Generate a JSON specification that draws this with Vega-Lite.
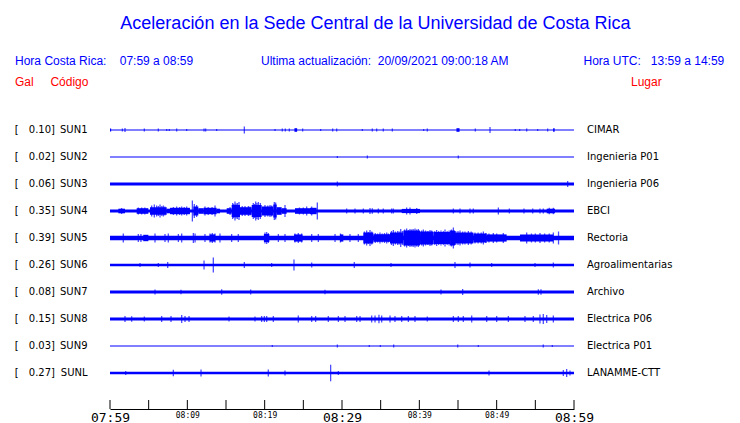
{
"$schema": "https://vega.github.io/schema/vega-lite/v6.json",
"width": 464, "height": 292.5,
"autosize": {"type": "none"},
"padding": {"left": 110, "top": 116.5, "right": 166, "bottom": 14},
"background": "#ffffff",
"config": {"view": {"stroke": null}, "axis": {"grid": false}},
"datasets": {
"one": [{}],
"st": [
{"s":"SUN1","g":"0.10","lugar":"CIMAR"},
{"s":"SUN2","g":"0.02","lugar":"Ingenieria P01"},
{"s":"SUN3","g":"0.06","lugar":"Ingenieria P06"},
{"s":"SUN4","g":"0.35","lugar":"EBCI"},
{"s":"SUN5","g":"0.39","lugar":"Rectoria"},
{"s":"SUN6","g":"0.26","lugar":"Agroalimentarias"},
{"s":"SUN7","g":"0.08","lugar":"Archivo"},
{"s":"SUN8","g":"0.15","lugar":"Electrica P06"},
{"s":"SUN9","g":"0.03","lugar":"Electrica P01"},
{"s":"SUNL","g":"0.27","lugar":"LANAMME-CTT"}
],
"ticks": [{"t":0},{"t":5},{"t":10},{"t":15},{"t":20},{"t":25},{"t":30},{"t":35},{"t":40},{"t":45},{"t":50},{"t":55},{"t":60}],
"seg": [
{"s":"SUN1","t0":0,"t1":60,"a":0.5},
{"s":"SUN2","t0":0,"t1":60,"a":0.5},
{"s":"SUN3","t0":0,"t1":60,"a":1.6},
{"s":"SUN4","t0":0,"t1":60,"a":1.4},
{"s":"SUN5","t0":0,"t1":60,"a":2.3},
{"s":"SUN6","t0":0,"t1":60,"a":1.2},
{"s":"SUN7","t0":0,"t1":60,"a":1.5},
{"s":"SUN8","t0":0,"t1":60,"a":1.6},
{"s":"SUN9","t0":0,"t1":60,"a":0.5},
{"s":"SUNL","t0":0,"t1":60,"a":1.2},
{"s":"SUN1","t0":0,"t1":0.15,"a":1.5},
{"s":"SUN1","t0":23.85,"t1":24.2,"a":1.8},
{"s":"SUN1","t0":44.8,"t1":45.2,"a":1.8},
{"s":"SUN1","t0":57.3,"t1":57.5,"a":1.8},
{"s":"SUN4","t0":1.08,"t1":1.94,"a":2.3},
{"s":"SUN4","t0":3.45,"t1":4.96,"a":2.8},
{"s":"SUN4","t0":5.17,"t1":7.33,"a":3.8},
{"s":"SUN4","t0":7.33,"t1":7.76,"a":2.3},
{"s":"SUN4","t0":7.76,"t1":10.34,"a":3.2},
{"s":"SUN4","t0":10.78,"t1":11.42,"a":4.5},
{"s":"SUN4","t0":11.42,"t1":12.07,"a":2.8},
{"s":"SUN4","t0":12.07,"t1":13.79,"a":3.2},
{"s":"SUN4","t0":13.79,"t1":14.22,"a":2.3},
{"s":"SUN4","t0":15.09,"t1":15.73,"a":2.8},
{"s":"SUN4","t0":15.73,"t1":16.81,"a":6},
{"s":"SUN4","t0":16.81,"t1":18.32,"a":3.8},
{"s":"SUN4","t0":18.32,"t1":19.61,"a":6},
{"s":"SUN4","t0":19.61,"t1":21.12,"a":4.5},
{"s":"SUN4","t0":21.12,"t1":21.55,"a":6.5},
{"s":"SUN4","t0":21.55,"t1":22.2,"a":3.8},
{"s":"SUN4","t0":22.2,"t1":22.84,"a":2.8},
{"s":"SUN4","t0":23.92,"t1":25.86,"a":2.8},
{"s":"SUN4","t0":25.86,"t1":26.72,"a":3.2},
{"s":"SUN4","t0":37.72,"t1":40.09,"a":2.1},
{"s":"SUN4","t0":56.47,"t1":57.54,"a":2.3},
{"s":"SUN5","t0":4.3,"t1":4.96,"a":3.2},
{"s":"SUN5","t0":12.9,"t1":13.6,"a":3.6},
{"s":"SUN5","t0":19.9,"t1":20.6,"a":4},
{"s":"SUN5","t0":23.8,"t1":24.9,"a":3.6},
{"s":"SUN5","t0":29.74,"t1":30.17,"a":3.6},
{"s":"SUN5","t0":32.76,"t1":34.05,"a":5.5},
{"s":"SUN5","t0":34.05,"t1":36.21,"a":3.8},
{"s":"SUN5","t0":36.21,"t1":37.93,"a":5.5},
{"s":"SUN5","t0":37.93,"t1":40.09,"a":7.5},
{"s":"SUN5","t0":40.09,"t1":41.81,"a":6.5},
{"s":"SUN5","t0":41.81,"t1":43.97,"a":6},
{"s":"SUN5","t0":43.97,"t1":44.61,"a":7.5},
{"s":"SUN5","t0":44.61,"t1":46.98,"a":5.5},
{"s":"SUN5","t0":46.98,"t1":48.71,"a":4.5},
{"s":"SUN5","t0":48.71,"t1":51.29,"a":3.6},
{"s":"SUN5","t0":53.02,"t1":57.33,"a":3.6}
],
"pk": [
{"s":"SUN1","t":1.6,"a":1.5},{"s":"SUN1","t":1.94,"a":2},{"s":"SUN1","t":4.44,"a":1.5},{"s":"SUN1","t":6.25,"a":1.5},{"s":"SUN1","t":7.33,"a":1},{"s":"SUN1","t":7.67,"a":1},{"s":"SUN1","t":8.62,"a":1.5},{"s":"SUN1","t":9.91,"a":1},{"s":"SUN1","t":12.16,"a":1.5},{"s":"SUN1","t":12.37,"a":1.5},{"s":"SUN1","t":13.79,"a":1},{"s":"SUN1","t":17.37,"a":3.5},{"s":"SUN1","t":21.34,"a":1},{"s":"SUN1","t":22.28,"a":1.5},{"s":"SUN1","t":22.67,"a":1.5},{"s":"SUN1","t":23.19,"a":1.5},{"s":"SUN1","t":24.91,"a":1.5},{"s":"SUN1","t":27.24,"a":1},{"s":"SUN1","t":28.79,"a":1.5},{"s":"SUN1","t":29.31,"a":1.5},{"s":"SUN1","t":32.63,"a":1},{"s":"SUN1","t":33.92,"a":1.5},{"s":"SUN1","t":34.48,"a":1.5},{"s":"SUN1","t":35.34,"a":1.5},{"s":"SUN1","t":36.51,"a":1.5},{"s":"SUN1","t":40.56,"a":1},{"s":"SUN1","t":41.03,"a":1.5},{"s":"SUN1","t":47.24,"a":1.5},{"s":"SUN1","t":49.14,"a":3},{"s":"SUN1","t":52.41,"a":1},{"s":"SUN1","t":52.97,"a":1},{"s":"SUN1","t":53.88,"a":1.5},{"s":"SUN1","t":55.3,"a":1},{"s":"SUN1","t":56.59,"a":1.5},
{"s":"SUN2","t":29.4,"a":1},{"s":"SUN2","t":33.28,"a":1.5},{"s":"SUN2","t":45.04,"a":1.5},
{"s":"SUN3","t":29.4,"a":2.5},{"s":"SUN3","t":59.18,"a":3},
{"s":"SUN4","t":1.5,"a":3},{"s":"SUN4","t":3.66,"a":3.5},{"s":"SUN4","t":4.1,"a":3.5},{"s":"SUN4","t":4.5,"a":3.5},{"s":"SUN4","t":5.39,"a":5.5},{"s":"SUN4","t":5.73,"a":6.5},{"s":"SUN4","t":6.03,"a":5.5},{"s":"SUN4","t":6.25,"a":5},{"s":"SUN4","t":6.47,"a":6.5},{"s":"SUN4","t":6.7,"a":5},{"s":"SUN4","t":6.9,"a":5.5},{"s":"SUN4","t":7.1,"a":4.5},{"s":"SUN4","t":8.2,"a":4},{"s":"SUN4","t":8.62,"a":4.5},{"s":"SUN4","t":9.0,"a":4},{"s":"SUN4","t":9.27,"a":4.5},{"s":"SUN4","t":9.6,"a":4},{"s":"SUN4","t":9.91,"a":4.5},{"s":"SUN4","t":10.65,"a":10.5},{"s":"SUN4","t":10.9,"a":7},{"s":"SUN4","t":11.2,"a":6},{"s":"SUN4","t":12.28,"a":4.5},{"s":"SUN4","t":12.7,"a":4},{"s":"SUN4","t":13.2,"a":4},{"s":"SUN4","t":13.58,"a":5.5},{"s":"SUN4","t":15.52,"a":4},{"s":"SUN4","t":15.86,"a":8},{"s":"SUN4","t":16.0,"a":7},{"s":"SUN4","t":16.16,"a":9.5},{"s":"SUN4","t":16.3,"a":7.5},{"s":"SUN4","t":16.47,"a":8},{"s":"SUN4","t":16.68,"a":9},{"s":"SUN4","t":17.1,"a":5},{"s":"SUN4","t":17.46,"a":5},{"s":"SUN4","t":17.89,"a":5},{"s":"SUN4","t":18.1,"a":4.5},{"s":"SUN4","t":18.53,"a":8},{"s":"SUN4","t":18.7,"a":7},{"s":"SUN4","t":18.84,"a":9.5},{"s":"SUN4","t":19.0,"a":8},{"s":"SUN4","t":19.18,"a":9},{"s":"SUN4","t":19.44,"a":8},{"s":"SUN4","t":20.04,"a":6},{"s":"SUN4","t":20.4,"a":5.5},{"s":"SUN4","t":20.69,"a":6},{"s":"SUN4","t":20.9,"a":5.5},{"s":"SUN4","t":21.25,"a":9},{"s":"SUN4","t":21.42,"a":8.5},{"s":"SUN4","t":22.63,"a":6},{"s":"SUN4","t":24.5,"a":3.5},{"s":"SUN4","t":25.0,"a":3.5},{"s":"SUN4","t":25.43,"a":4.5},{"s":"SUN4","t":26.08,"a":4.5},{"s":"SUN4","t":26.81,"a":8.5},
{"s":"SUN4","t":30.6,"a":2.5},{"s":"SUN4","t":31.68,"a":2.5},{"s":"SUN4","t":32.76,"a":2.5},{"s":"SUN4","t":33.62,"a":3},{"s":"SUN4","t":33.92,"a":2.8},{"s":"SUN4","t":34.7,"a":2.5},{"s":"SUN4","t":35.34,"a":2.5},{"s":"SUN4","t":36.42,"a":2.5},{"s":"SUN4","t":36.64,"a":2.5},{"s":"SUN4","t":38.36,"a":3.5},{"s":"SUN4","t":38.79,"a":3.5},{"s":"SUN4","t":39.66,"a":3},{"s":"SUN4","t":44.4,"a":2.5},{"s":"SUN4","t":45.26,"a":2.5},{"s":"SUN4","t":46.55,"a":2.5},{"s":"SUN4","t":46.98,"a":2.5},{"s":"SUN4","t":50.22,"a":3.5},{"s":"SUN4","t":51.64,"a":2.5},{"s":"SUN4","t":53.53,"a":2.5},{"s":"SUN4","t":54.66,"a":2.5},{"s":"SUN4","t":55.6,"a":2.5},{"s":"SUN4","t":56.03,"a":2.5},{"s":"SUN4","t":56.8,"a":3.2},{"s":"SUN4","t":57.33,"a":3.2},
{"s":"SUN5","t":1.72,"a":4.5},{"s":"SUN5","t":3.66,"a":4},{"s":"SUN5","t":4.0,"a":4},{"s":"SUN5","t":5.82,"a":4.5},{"s":"SUN5","t":7.11,"a":4},{"s":"SUN5","t":7.54,"a":4.5},{"s":"SUN5","t":8.84,"a":4},{"s":"SUN5","t":9.27,"a":4.5},{"s":"SUN5","t":10.78,"a":5},{"s":"SUN5","t":11.0,"a":4.5},{"s":"SUN5","t":12.28,"a":4},{"s":"SUN5","t":12.93,"a":4.5},{"s":"SUN5","t":13.23,"a":5},{"s":"SUN5","t":13.58,"a":4.5},{"s":"SUN5","t":14.22,"a":4.5},{"s":"SUN5","t":15.73,"a":4},{"s":"SUN5","t":16.59,"a":4},{"s":"SUN5","t":20.04,"a":5.5},{"s":"SUN5","t":20.26,"a":6},{"s":"SUN5","t":20.47,"a":5},{"s":"SUN5","t":21.77,"a":4},{"s":"SUN5","t":22.63,"a":4},{"s":"SUN5","t":23.92,"a":4.5},{"s":"SUN5","t":24.35,"a":5},{"s":"SUN5","t":24.78,"a":4.5},{"s":"SUN5","t":26.08,"a":4},{"s":"SUN5","t":26.94,"a":4},{"s":"SUN5","t":29.1,"a":4},{"s":"SUN5","t":29.8,"a":4.5},{"s":"SUN5","t":31.03,"a":4},{"s":"SUN5","t":32.11,"a":4},
{"s":"SUN5","t":32.9,"a":6.5},{"s":"SUN5","t":33.19,"a":7.5},{"s":"SUN5","t":33.4,"a":6},{"s":"SUN5","t":33.62,"a":8},{"s":"SUN5","t":33.85,"a":6.5},{"s":"SUN5","t":34.3,"a":5},{"s":"SUN5","t":34.6,"a":4.5},{"s":"SUN5","t":34.91,"a":5.5},{"s":"SUN5","t":35.2,"a":4.5},{"s":"SUN5","t":35.5,"a":5},{"s":"SUN5","t":35.78,"a":5.5},{"s":"SUN5","t":36.0,"a":4.5},{"s":"SUN5","t":36.4,"a":7},{"s":"SUN5","t":36.64,"a":8},{"s":"SUN5","t":36.9,"a":6.5},{"s":"SUN5","t":37.2,"a":7},{"s":"SUN5","t":37.4,"a":6.5},{"s":"SUN5","t":37.59,"a":9},{"s":"SUN5","t":37.8,"a":7},{"s":"SUN5","t":38.1,"a":8.5},{"s":"SUN5","t":38.36,"a":9.5},{"s":"SUN5","t":38.6,"a":8},{"s":"SUN5","t":38.79,"a":9},{"s":"SUN5","t":39.0,"a":8.5},{"s":"SUN5","t":39.2,"a":9},{"s":"SUN5","t":39.44,"a":9.5},{"s":"SUN5","t":39.65,"a":8.5},{"s":"SUN5","t":39.87,"a":9},{"s":"SUN5","t":40.3,"a":7.5},{"s":"SUN5","t":40.52,"a":8.5},{"s":"SUN5","t":40.8,"a":7.5},{"s":"SUN5","t":41.1,"a":7},{"s":"SUN5","t":41.38,"a":8},{"s":"SUN5","t":41.6,"a":7.5},{"s":"SUN5","t":42.0,"a":7},{"s":"SUN5","t":42.24,"a":8},{"s":"SUN5","t":42.5,"a":7},{"s":"SUN5","t":42.8,"a":7.5},{"s":"SUN5","t":43.1,"a":7},{"s":"SUN5","t":43.32,"a":8.5},{"s":"SUN5","t":43.6,"a":7},{"s":"SUN5","t":43.85,"a":7.5},{"s":"SUN5","t":44.15,"a":8.5},{"s":"SUN5","t":44.4,"a":10.5},{"s":"SUN5","t":44.7,"a":7},{"s":"SUN5","t":45.0,"a":7},{"s":"SUN5","t":45.26,"a":7.5},{"s":"SUN5","t":45.6,"a":6.5},{"s":"SUN5","t":45.9,"a":6.5},{"s":"SUN5","t":46.34,"a":7},{"s":"SUN5","t":46.7,"a":6.5},{"s":"SUN5","t":47.2,"a":5.5},{"s":"SUN5","t":47.6,"a":5.5},{"s":"SUN5","t":48.0,"a":5.5},{"s":"SUN5","t":48.28,"a":6.5},{"s":"SUN5","t":48.6,"a":5},{"s":"SUN5","t":49.0,"a":4.5},{"s":"SUN5","t":49.57,"a":5},{"s":"SUN5","t":50.0,"a":4.5},{"s":"SUN5","t":50.86,"a":5},{"s":"SUN5","t":53.88,"a":5.5},{"s":"SUN5","t":54.5,"a":4.5},{"s":"SUN5","t":55.0,"a":4.5},{"s":"SUN5","t":55.6,"a":5},{"s":"SUN5","t":56.2,"a":4.5},{"s":"SUN5","t":56.8,"a":4.5},{"s":"SUN5","t":57.33,"a":5.5},{"s":"SUN5","t":58.0,"a":6.5},
{"s":"SUN6","t":3.88,"a":2},{"s":"SUN6","t":6.25,"a":2},{"s":"SUN6","t":7.46,"a":3},{"s":"SUN6","t":12.16,"a":4.5},{"s":"SUN6","t":13.36,"a":7.5},{"s":"SUN6","t":17.37,"a":3},{"s":"SUN6","t":20.9,"a":2},{"s":"SUN6","t":23.79,"a":5.5},{"s":"SUN6","t":26.08,"a":2.5},{"s":"SUN6","t":31.59,"a":3},{"s":"SUN6","t":36.34,"a":2},{"s":"SUN6","t":44.61,"a":3},{"s":"SUN6","t":46.55,"a":2.5},{"s":"SUN6","t":49.35,"a":2},{"s":"SUN6","t":54.96,"a":2},{"s":"SUN6","t":57.33,"a":2.5},
{"s":"SUN7","t":5.82,"a":2.5},{"s":"SUN7","t":9.18,"a":2.3},{"s":"SUN7","t":14.44,"a":2.8},{"s":"SUN7","t":18.19,"a":2.5},{"s":"SUN7","t":27.8,"a":2.3},{"s":"SUN7","t":42.8,"a":2.5},{"s":"SUN7","t":45.6,"a":3},{"s":"SUN7","t":55.39,"a":2.8},{"s":"SUN7","t":55.73,"a":2.8},
{"s":"SUN8","t":1.94,"a":3},{"s":"SUN8","t":2.8,"a":2.7},{"s":"SUN8","t":4.44,"a":2.5},{"s":"SUN8","t":6.68,"a":3},{"s":"SUN8","t":7.89,"a":3},{"s":"SUN8","t":9.27,"a":4},{"s":"SUN8","t":9.7,"a":3},{"s":"SUN8","t":10.22,"a":3},{"s":"SUN8","t":15.39,"a":2.5},{"s":"SUN8","t":18.75,"a":2.5},{"s":"SUN8","t":19.61,"a":3},{"s":"SUN8","t":19.96,"a":3},{"s":"SUN8","t":20.26,"a":3},{"s":"SUN8","t":21.12,"a":3},{"s":"SUN8","t":24.35,"a":3.5},{"s":"SUN8","t":26.08,"a":3},{"s":"SUN8","t":26.59,"a":3},{"s":"SUN8","t":28.23,"a":3},{"s":"SUN8","t":29.53,"a":3},{"s":"SUN8","t":30.39,"a":3},{"s":"SUN8","t":31.9,"a":3},{"s":"SUN8","t":32.33,"a":3},{"s":"SUN8","t":33.84,"a":3.5},{"s":"SUN8","t":34.27,"a":3.5},{"s":"SUN8","t":34.78,"a":4.2},{"s":"SUN8","t":35.13,"a":3.5},{"s":"SUN8","t":36.21,"a":3.5},{"s":"SUN8","t":36.85,"a":3},{"s":"SUN8","t":37.72,"a":3},{"s":"SUN8","t":38.58,"a":3},{"s":"SUN8","t":39.44,"a":3},{"s":"SUN8","t":41.03,"a":2.5},{"s":"SUN8","t":44.4,"a":3},{"s":"SUN8","t":45.04,"a":3},{"s":"SUN8","t":45.69,"a":3},{"s":"SUN8","t":46.77,"a":3.5},{"s":"SUN8","t":48.71,"a":3},{"s":"SUN8","t":50.0,"a":3},{"s":"SUN8","t":51.51,"a":3},{"s":"SUN8","t":53.66,"a":3},{"s":"SUN8","t":54.74,"a":3},{"s":"SUN8","t":55.6,"a":4.5},{"s":"SUN8","t":56.03,"a":5},{"s":"SUN8","t":56.47,"a":4},{"s":"SUN8","t":57.33,"a":3.5},
{"s":"SUN9","t":20.99,"a":1},{"s":"SUN9","t":29.4,"a":1.5},{"s":"SUN9","t":33.53,"a":1},{"s":"SUN9","t":34.96,"a":1},{"s":"SUN9","t":36.68,"a":1.5},{"s":"SUN9","t":44.96,"a":1.5},{"s":"SUN9","t":47.63,"a":1},{"s":"SUN9","t":56.03,"a":1.5},{"s":"SUN9","t":57.2,"a":1},
{"s":"SUNL","t":2.03,"a":2},{"s":"SUNL","t":8.19,"a":3.3},{"s":"SUNL","t":11.77,"a":3.5},{"s":"SUNL","t":20.47,"a":3.5},{"s":"SUNL","t":22.63,"a":2.5},{"s":"SUNL","t":28.53,"a":8.3},{"s":"SUNL","t":29.53,"a":2},{"s":"SUNL","t":49.01,"a":2.5},{"s":"SUNL","t":58.62,"a":3},{"s":"SUNL","t":59.05,"a":4},{"s":"SUNL","t":59.48,"a":2.5}
]
},
"layer": [
{"layer": [
{"data": {"name": "seg"}, "mark": {"type": "bar", "color": "#0000ff"},
 "encoding": {
  "x": {"field": "t0", "type": "quantitative", "title": null, "scale": {"domain": [0, 60], "nice": false, "zero": false},
        "axis": {"values": [0, 10, 20, 30, 40, 50, 60], "ticks": false, "domain": true, "domainColor": "#000000", "domainWidth": 1,
                 "labelFont": "DejaVu Sans Mono", "labelColor": "#000000",
                 "labelFontSize": {"condition": {"test": "datum.value % 30 == 0", "value": 13}, "value": 8},
                 "labelPadding": 2, "labelBaseline": "top", "labelFlush": false, "labelOverlap": false,
                 "labelExpr": "(floor((479+datum.value)/60) < 10 ? '0' : '') + floor((479+datum.value)/60) + ':' + (((479+datum.value)%60) < 10 ? '0' : '') + ((479+datum.value)%60)"}},
  "x2": {"field": "t1"},
  "y": {"field": "s", "type": "nominal", "title": null,
        "scale": {"domain": ["SUN1","SUN2","SUN3","SUN4","SUN5","SUN6","SUN7","SUN8","SUN9","SUNL"], "paddingInner": 0, "paddingOuter": 0.41667, "align": 0},
        "axis": {"orient": "left", "domain": false, "ticks": false, "labelPadding": 23, "labelFont": "DejaVu Sans", "labelFontSize": 10, "labelColor": "#000000"}},
  "size": {"field": "a", "type": "quantitative", "scale": {"domain": [0, 10], "range": [0, 20]}, "legend": null}
 }},
{"data": {"name": "pk"}, "mark": {"type": "tick", "color": "#0000ff", "thickness": 1.3},
 "encoding": {
  "x": {"field": "t", "type": "quantitative", "title": null, "scale": {"domain": [0, 60], "nice": false, "zero": false}},
  "y": {"field": "s", "type": "nominal", "title": null},
  "size": {"field": "a", "type": "quantitative", "scale": {"domain": [0, 10], "range": [0, 20]}, "legend": null}
 }},
{"data": {"name": "st"}, "mark": {"type": "text", "align": "left", "baseline": "middle", "font": "DejaVu Sans", "fontSize": 10, "color": "#000000"},
 "encoding": {
  "x": {"datum": -12.32, "type": "quantitative", "title": null, "scale": {"domain": [0, 60], "nice": false, "zero": false}},
  "y": {"field": "s", "type": "nominal", "title": null},
  "text": {"value": "["}
 }},
{"data": {"name": "st"}, "mark": {"type": "text", "align": "right", "baseline": "middle", "font": "DejaVu Sans", "fontSize": 10, "color": "#000000"},
 "encoding": {
  "x": {"datum": -7.62, "type": "quantitative", "title": null, "scale": {"domain": [0, 60], "nice": false, "zero": false}},
  "y": {"field": "s", "type": "nominal", "title": null},
  "text": {"field": "g"}
 }},
{"data": {"name": "st"}, "mark": {"type": "text", "align": "left", "baseline": "middle", "font": "DejaVu Sans", "fontSize": 10, "color": "#000000"},
 "encoding": {
  "x": {"datum": -7.62, "type": "quantitative", "title": null, "scale": {"domain": [0, 60], "nice": false, "zero": false}},
  "y": {"field": "s", "type": "nominal", "title": null},
  "text": {"value": "]"}
 }},
{"data": {"name": "st"}, "mark": {"type": "text", "align": "left", "baseline": "middle", "font": "DejaVu Sans", "fontSize": 10, "color": "#000000"},
 "encoding": {
  "x": {"datum": 61.68, "type": "quantitative", "title": null, "scale": {"domain": [0, 60], "nice": false, "zero": false}},
  "y": {"field": "s", "type": "nominal", "title": null},
  "text": {"field": "lugar"}
 }}
]},
{"layer": [
{"data": {"name": "ticks"}, "mark": {"type": "rule", "color": "#000000", "strokeWidth": 1},
 "encoding": {
  "x": {"field": "t", "type": "quantitative", "title": null, "scale": {"domain": [0, 60], "nice": false, "zero": false}},
  "y": {"datum": -10, "type": "quantitative", "scale": {"domain": [-10.3333, 0.5], "nice": false, "zero": false}, "axis": null},
  "y2": {"datum": -10.3333}
 }},
{"data": {"name": "one"}, "mark": {"type": "text", "align": "center", "baseline": "alphabetic", "font": "Liberation Sans", "fontSize": 18, "color": "#0000ff"},
 "encoding": {
  "x": {"datum": 34.33, "type": "quantitative", "title": null, "scale": {"domain": [0, 60], "nice": false, "zero": false}},
  "y": {"datum": 3.74, "type": "quantitative", "scale": {"domain": [-10.3333, 0.5], "nice": false, "zero": false}, "axis": null},
  "text": {"value": "Aceleración en la Sede Central de la Universidad de Costa Rica"}
 }},
{"data": {"name": "one"}, "mark": {"type": "text", "align": "left", "baseline": "alphabetic", "font": "Liberation Sans", "fontSize": 12, "color": "#0000ff"},
 "encoding": {
  "x": {"datum": -12.28, "type": "quantitative", "title": null, "scale": {"domain": [0, 60], "nice": false, "zero": false}},
  "y": {"datum": 2.4, "type": "quantitative", "scale": {"domain": [-10.3333, 0.5], "nice": false, "zero": false}, "axis": null},
  "text": {"value": "Hora Costa Rica:\u00a0\u00a0\u00a0\u00a007:59 a 08:59"}
 }},
{"data": {"name": "one"}, "mark": {"type": "text", "align": "left", "baseline": "alphabetic", "font": "Liberation Sans", "fontSize": 12, "color": "#0000ff"},
 "encoding": {
  "x": {"datum": 19.53, "type": "quantitative", "title": null, "scale": {"domain": [0, 60], "nice": false, "zero": false}},
  "y": {"datum": 2.4, "type": "quantitative", "scale": {"domain": [-10.3333, 0.5], "nice": false, "zero": false}, "axis": null},
  "text": {"value": "Ultima actualización:\u00a0\u00a020/09/2021 09:00:18 AM"}
 }},
{"data": {"name": "one"}, "mark": {"type": "text", "align": "left", "baseline": "alphabetic", "font": "Liberation Sans", "fontSize": 12, "color": "#0000ff"},
 "encoding": {
  "x": {"datum": 61.23, "type": "quantitative", "title": null, "scale": {"domain": [0, 60], "nice": false, "zero": false}},
  "y": {"datum": 2.4, "type": "quantitative", "scale": {"domain": [-10.3333, 0.5], "nice": false, "zero": false}, "axis": null},
  "text": {"value": "Hora UTC:\u00a0\u00a0\u00a013:59 a 14:59"}
 }},
{"data": {"name": "one"}, "mark": {"type": "text", "align": "left", "baseline": "alphabetic", "font": "Liberation Sans", "fontSize": 12, "color": "#ff0000"},
 "encoding": {
  "x": {"datum": -12.28, "type": "quantitative", "title": null, "scale": {"domain": [0, 60], "nice": false, "zero": false}},
  "y": {"datum": 1.63, "type": "quantitative", "scale": {"domain": [-10.3333, 0.5], "nice": false, "zero": false}, "axis": null},
  "text": {"value": "Gal\u00a0\u00a0\u00a0\u00a0\u00a0Código"}
 }},
{"data": {"name": "one"}, "mark": {"type": "text", "align": "left", "baseline": "alphabetic", "font": "Liberation Sans", "fontSize": 12, "color": "#ff0000"},
 "encoding": {
  "x": {"datum": 67.37, "type": "quantitative", "title": null, "scale": {"domain": [0, 60], "nice": false, "zero": false}},
  "y": {"datum": 1.63, "type": "quantitative", "scale": {"domain": [-10.3333, 0.5], "nice": false, "zero": false}, "axis": null},
  "text": {"value": "Lugar"}
 }}
]}
],
"resolve": {"scale": {"y": "independent"}}
}
